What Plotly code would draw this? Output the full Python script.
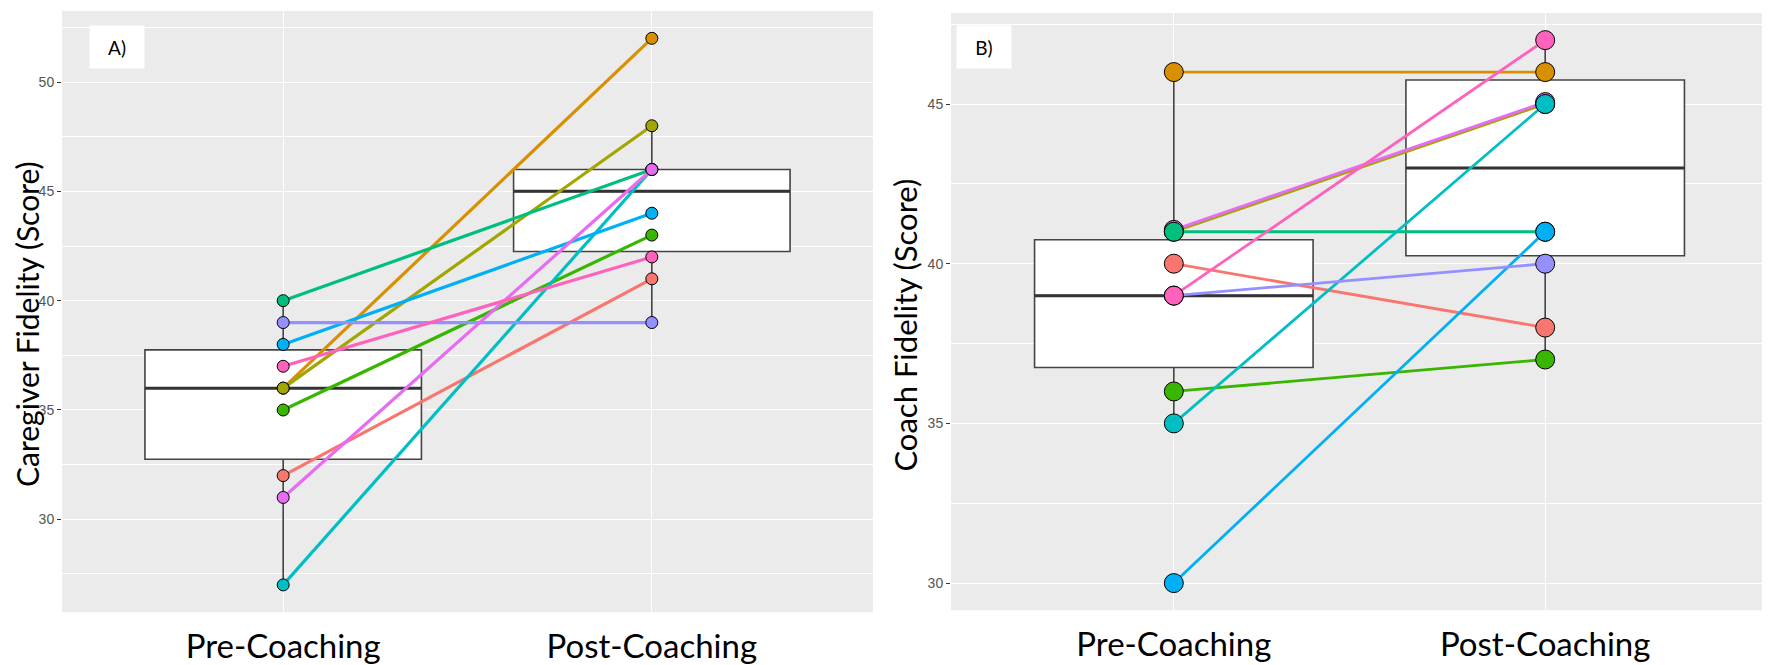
import plotly.graph_objects as go

# categories on the x axis
categories = ["Pre-Coaching", "Post-Coaching"]

# ggplot hue palette, one colour per participant
palette_a = ["#F8766D", "#D89000", "#A3A500", "#39B600", "#00BF7D",
             "#00BFC4", "#00B0F6", "#9590FF", "#E76BF3", "#FF62BC"]
palette_b = ["#F8766D", "#D89000", "#A3A500", "#39B600", "#E76BF3",
             "#00BF7D", "#00BFC4", "#00B0F6", "#9590FF", "#FF62BC"]

# A) caregiver fidelity scores
caregiver_pre = [32, 36, 36, 35, 40, 27, 38, 39, 31, 37]
caregiver_post = [41, 52, 48, 43, 46, 46, 44, 39, 46, 42]
caregiver_q1 = [32.75, 42.25]
caregiver_median = [36, 45]
caregiver_q3 = [37.75, 46]
caregiver_low = [27, 39]
caregiver_high = [40, 48]

# B) coach fidelity scores
coach_pre = [40, 46, 41, 36, 41.06, 41, 35, 30, 39, 39]
coach_post = [38, 46, 45, 37, 45.06, 41, 45, 41, 40, 47]
coach_q1 = [36.75, 40.25]
coach_median = [39, 43]
coach_q3 = [40.75, 45.75]
coach_low = [35, 37]
coach_high = [46, 47]

# the page body has an 8px default margin, so work in page pixels minus it
OFF = 8
W, H = 1770 - OFF, 665 - OFF
BOX_W = 0.75
xpos = [i + 1 for i in range(len(categories))]


def px(x):
    return (x - OFF) / W


def py(y):
    return 1 - (y - OFF) / H


fig = go.Figure()


def add_panel(pre, post, colors, q1, med, q3, lo, hi, xa, ya, msize, lw):
    # boxes
    fig.add_trace(go.Box(
        x=xpos, q1=q1, median=med, q3=q3, lowerfence=lo, upperfence=hi,
        width=BOX_W, whiskerwidth=0, fillcolor="white",
        line=dict(color="#444444", width=1.6), boxpoints=False,
        hoverinfo="skip", showlegend=False, xaxis=xa, yaxis=ya,
    ))
    # thicker median bars
    for x, m in zip(xpos, med):
        fig.add_trace(go.Scatter(
            x=[x - BOX_W / 2, x + BOX_W / 2], y=[m, m], mode="lines",
            line=dict(color="#333333", width=3), hoverinfo="skip",
            showlegend=False, xaxis=xa, yaxis=ya,
        ))
    # participant lines
    for a, b, c in zip(pre, post, colors):
        fig.add_trace(go.Scatter(
            x=xpos, y=[a, b], mode="lines", line=dict(color=c, width=lw),
            showlegend=False, xaxis=xa, yaxis=ya,
        ))
    # points on top
    for vals, x in zip([pre, post], xpos):
        fig.add_trace(go.Scatter(
            x=[x] * len(vals), y=vals, mode="markers",
            marker=dict(size=msize, color=colors,
                        line=dict(color="black", width=1)),
            showlegend=False, xaxis=xa, yaxis=ya,
        ))


add_panel(caregiver_pre, caregiver_post, palette_a, caregiver_q1, caregiver_median,
          caregiver_q3, caregiver_low, caregiver_high, "x", "y", 12, 3.2)
add_panel(coach_pre, coach_post, palette_b, coach_q1, coach_median,
          coach_q3, coach_low, coach_high, "x2", "y2", 19, 2.8)

xstyle = dict(
    tickvals=xpos, ticktext=categories, range=[0.4, 2.6],
    showgrid=True, gridcolor="white", gridwidth=1.3, zeroline=False,
    ticks="", ticklabelstandoff=12,
    tickfont=dict(family="Lato", size=33, color="black"),
)
ystyle = dict(
    dtick=5, tick0=0, showgrid=True, gridcolor="white", gridwidth=1.3,
    zeroline=False, ticks="outside", ticklen=4, tickwidth=1.1,
    tickcolor="#333333",
    tickfont=dict(family="Liberation Sans", size=14, color="#555555"),
    minor=dict(dtick=2.5, showgrid=True, gridcolor="white", gridwidth=0.6),
)

fig.update_layout(
    width=W, height=H,
    margin=dict(l=0, r=0, t=0, b=0),
    paper_bgcolor="white", plot_bgcolor="#EBEBEB",
    showlegend=False,
    xaxis=dict(domain=[px(62), px(873)], anchor="y", **xstyle),
    yaxis=dict(domain=[py(615), py(11)], anchor="x",
               range=[25.75, 53.25], **ystyle),
    xaxis2=dict(domain=[px(951), px(1768)], anchor="y2", **xstyle),
    yaxis2=dict(domain=[py(613), py(13)], anchor="x2",
                range=[29.15, 47.85], **ystyle),
)

ttl_font = dict(family="Lato", size=30, color="black")
fig.add_annotation(text="Caregiver Fidelity (Score)", textangle=-90,
                   xref="paper", yref="paper", x=px(26.5), y=py(326),
                   xanchor="center", yanchor="middle",
                   showarrow=False, font=ttl_font)
fig.add_annotation(text="Coach Fidelity (Score)", textangle=-90,
                   xref="paper", yref="paper", x=px(905), y=py(327),
                   xanchor="center", yanchor="middle",
                   showarrow=False, font=dict(ttl_font, size=31))

lab_font = dict(family="Lato", size=19, color="black")
for txt, cx in [("A)", 117), ("B)", 984)]:
    fig.add_annotation(text=txt, xref="paper", yref="paper",
                       x=px(cx), y=py(47), xanchor="center", yanchor="middle",
                       showarrow=False, bgcolor="white",
                       width=34, height=22, borderpad=10, font=lab_font)

fig.write_html("out.html")
